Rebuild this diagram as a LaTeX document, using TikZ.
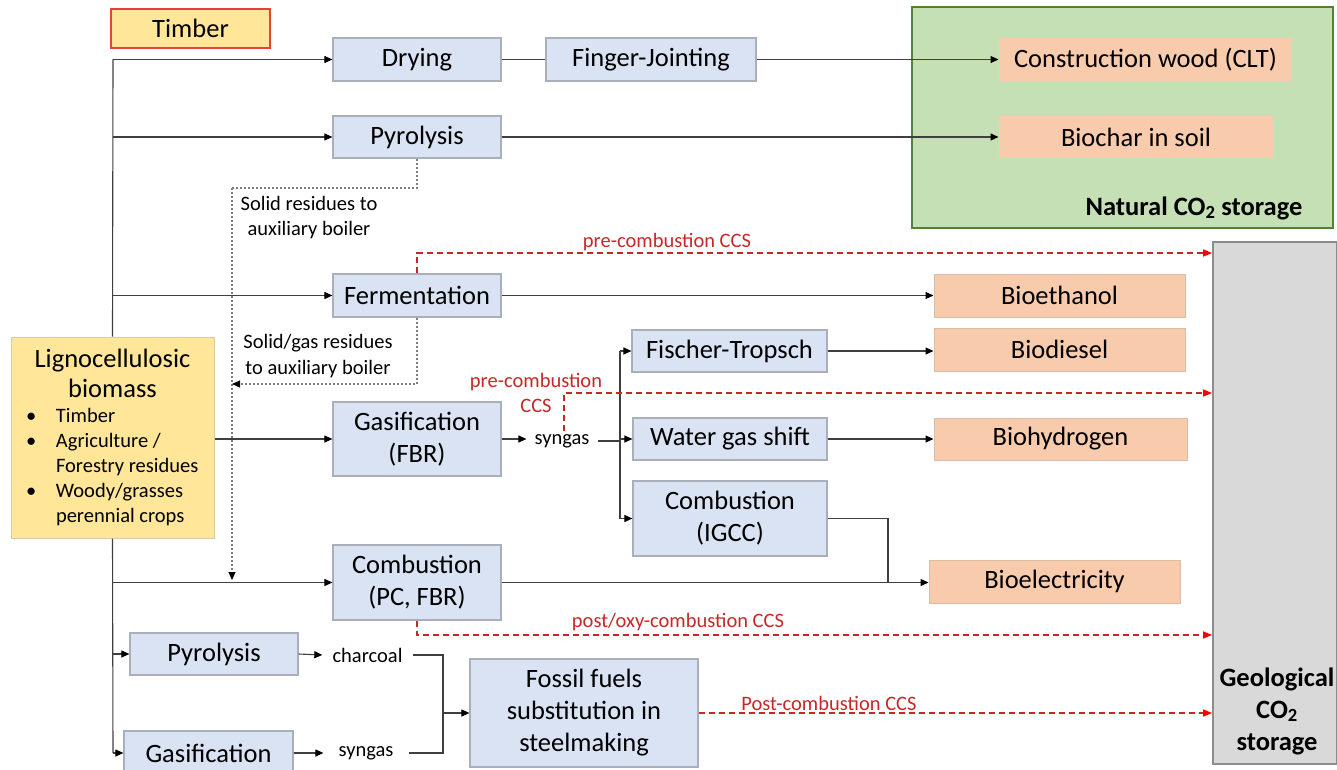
\documentclass[tikz,border=0pt]{standalone}
\usepackage{fontspec}
\setmainfont{Carlito}
\usetikzlibrary{arrows.meta}
\definecolor{procfill}{HTML}{DAE3F3}
\definecolor{procdraw}{HTML}{A9B0BC}
\definecolor{prodfill}{HTML}{F8CBAD}
\definecolor{proddraw}{HTML}{DDBCA6}
\definecolor{yel}{HTML}{FFE699}
\definecolor{yeldraw}{HTML}{D8CCA8}
\definecolor{timberdraw}{HTML}{E8403A}
\definecolor{natfill}{HTML}{C5E0B4}
\definecolor{natdraw}{HTML}{548235}
\definecolor{geofill}{HTML}{D9D9D9}
\definecolor{geodraw}{HTML}{8C8C8C}
\definecolor{ccsred}{HTML}{C62828}
\definecolor{ccstip}{HTML}{FF0000}
\definecolor{linegray}{HTML}{3F3F3F}
\definecolor{dotgray}{HTML}{7F7F7F}
\newcommand\mainsize{\fontsize{26.5}{32}\selectfont}
\newcommand\smallsize{\fontsize{20.5}{25.5}\selectfont}
\newcommand\bulletline[1]{\hspace*{15pt}\makebox[30pt][l]{•}#1}
\begin{document}
\begin{tikzpicture}[x=1pt,y=-1pt,
  base/.style={inner sep=0pt, align=center, font=\mainsize, text=black},
  proc/.style={base, fill=procfill, draw=procdraw, line width=1.2pt},
  prod/.style={base, fill=prodfill, draw=proddraw, line width=1pt},
  lbl/.style={inner sep=0pt, align=center, font=\smallsize, text=black},
  ccslbl/.style={inner sep=0pt, align=center, font=\smallsize, text=ccsred},
  arr/.style={draw=linegray, line width=1.1pt, -{Triangle[length=8pt,width=7pt,color=black]}},
  ln/.style={draw=linegray, line width=1.1pt},
  ccs/.style={draw=ccsred, line width=1.4pt, dash pattern=on 6pt off 4pt, -{Triangle[length=9pt,width=7pt,color=ccstip]}},
  dots/.style={draw=dotgray, line width=1.1pt, dash pattern=on 2pt off 2pt},
  dotarr/.style={dots, -{Triangle[length=8pt,width=7pt,color=black]}}
]
\useasboundingbox (0,0) rectangle (1337,770);

% storage areas
\node[base, fill=natfill, draw=natdraw, line width=1.5pt, minimum width=421pt, minimum height=221pt] (nat) at (1122.5,117.5) {};
\node[base, font=\mainsize\bfseries] (natlbl) at (1194,208) {Natural CO\textsubscript{2} storage};
\node[base, fill=geofill, draw=geodraw, line width=1.8pt, minimum width=124pt, minimum height=522pt] (geo) at (1275,503) {};
\node[base, font=\mainsize\bfseries] (geolbl) at (1277,711) {Geological\\CO\textsubscript{2}\\storage};

% source boxes
\node[base, fill=yel, draw=timberdraw, line width=1.5pt, minimum width=159pt, minimum height=39pt] (timber) at (190.5,28.5) {Timber};
\node[base, fill=yel, draw=yeldraw, line width=1pt, minimum width=203pt, minimum height=201pt] (bio) at (112.5,437.5)
  {\parbox{203pt}{\centering\mainsize\fontsize{26.5}{30}\selectfont Lignocellulosic\\biomass\par
   \raggedright\smallsize\fontsize{20.5}{25}\selectfont
   \bulletline{Timber}\\
   \bulletline{Agriculture /}\\
   \hspace*{45pt}Forestry residues\\
   \bulletline{Woody/grasses}\\
   \hspace*{45pt}perennial crops\par}};

% process boxes
\node[proc, minimum width=168pt, minimum height=43pt] (dry) at (417,59.5) {Drying};
\node[proc, minimum width=210pt, minimum height=43pt] (finger) at (651,59.5) {Finger-Jointing};
\node[proc, minimum width=168pt, minimum height=42pt] (pyro) at (417,137) {Pyrolysis};
\node[proc, minimum width=168pt, minimum height=43pt] (ferm) at (417,295.5) {Fermentation};
\node[proc, minimum width=168pt, minimum height=74pt] (gasif) at (417,439) {Gasification\\(FBR)};
\node[proc, minimum width=168pt, minimum height=75pt] (comb) at (417,582.5) {Combustion\\(PC, FBR)};
\node[proc, minimum width=195pt, minimum height=42pt] (ft) at (729.5,351) {Fischer-Tropsch};
\node[proc, minimum width=194pt, minimum height=42pt] (wgs) at (730,439) {Water gas shift};
\node[proc, minimum width=194pt, minimum height=75pt] (igcc) at (730,518.5) {Combustion\\(IGCC)};
\node[proc, minimum width=168pt, minimum height=42pt] (pyro2) at (214,654) {Pyrolysis};
\node[proc, minimum width=169pt, minimum height=44pt] (gas2) at (208.5,753) {Gasification};
\node[proc, minimum width=228pt, minimum height=108pt] (fossil) at (584,713) {Fossil fuels\\substitution in\\steelmaking};

% products
\node[prod, draw=none, minimum width=293pt, minimum height=43pt] (clt) at (1145.5,59.5) {Construction wood (CLT)};
\node[prod, draw=none, minimum width=274pt, minimum height=42pt] (biochar) at (1136,137) {Biochar in soil};
\node[prod, minimum width=251pt, minimum height=43pt] (bioeth) at (1059.5,295.5) {Bioethanol};
\node[prod, minimum width=251pt, minimum height=43pt] (biod) at (1059.5,349.5) {Biodiesel};
\node[prod, minimum width=253pt, minimum height=42pt] (bioh) at (1060.5,439) {Biohydrogen};
\node[prod, minimum width=251pt, minimum height=43pt] (bioel) at (1054.5,581.5) {Bioelectricity};

% intermediate texts
\node[lbl, inner xsep=8pt, inner ysep=3pt] (syngas) at (562,441) {syngas};
\node[lbl, inner xsep=10pt] (charcoal) at (367.5,655) {charcoal};
\node[lbl, inner xsep=15pt] (syngas2) at (366,753) {syngas};
\node[lbl] (res1) at (309,217.5) {Solid residues to\\auxiliary boiler};
\node[lbl] (res2) at (318,356) {Solid/gas residues\\to auxiliary boiler};
\node[ccslbl] (ccs1) at (667,242) {pre-combustion CCS};
\node[ccslbl] (ccs2) at (536,393) {pre-combustion\\CCS};
\node[ccslbl] (ccs3) at (678,622) {post/oxy-combustion CCS};
\node[ccslbl] (ccs4) at (829,703) {Post-combustion CCS};

% trunk
\coordinate (ttop) at (113,59.5);
\coordinate (tbot) at (113,753);
\draw[ln] (ttop) -- (bio.north);
\draw[ln] (bio.south) -- (tbot);
\draw[arr] (ttop) -- (dry.west);
\draw[arr] (pyro.west -| ttop) -- (pyro.west);
\draw[arr] (ferm.west -| ttop) -- (ferm.west);
\draw[arr] (comb.west -| ttop) -- (comb.west);
\draw[arr] (pyro2.west -| ttop) -- (pyro2.west);
\draw[arr] (tbot) -- (gas2.west);
\draw[arr] (bio.east |- gasif.west) -- (gasif.west);

% top rows
\draw[ln] (dry.east) -- (finger.west);
\draw[arr] (finger.east) -- (clt.west);
\draw[arr] (pyro.east) -- (biochar.west);
\draw[arr] (ferm.east) -- (bioeth.west);

% residues to boiler
\coordinate (rv) at (232,188);
\coordinate (rb) at (232,580);
\draw[dots] (pyro.south) |- (rv);
\draw[dotarr] (rv) -- (rb);
\coordinate (rf) at (417,384);
\draw[dotarr] (ferm.south) -- (rf) -- (rf -| rv);

% gasification chain
\coordinate (split) at (620,441);
\draw[arr] (gasif.east) -- (syngas.west |- gasif.east);
\draw[ln] (syngas.east) -- (split);
\draw[ln] (split |- ft.west) -- (split |- igcc.west);
\draw[arr] (split |- ft.west) -- (ft.west);
\draw[arr] (split |- wgs.west) -- (wgs.west);
\draw[arr] (split |- igcc.west) -- (igcc.west);
\draw[arr] (ft.east) -- (ft.east -| biod.west);
\draw[arr] (wgs.east) -- (bioh.west);
\coordinate (ej) at (888,518.5);
\draw[ln] (igcc.east) -- (ej) -- (ej |- comb.east);
\draw[arr] (comb.east) -- (comb.east -| bioel.west);

% CCS routes
\coordinate (c1) at (417,253);
\draw[ccs] (ferm.north) -- (c1) -- (c1 -| geo.west);
\coordinate (c2) at (564,393);
\draw[ccs] (c2 |- syngas.north) -- (c2) -- (c2 -| geo.west);
\coordinate (c3) at (417,635);
\draw[ccs] (comb.south) -- (c3) -- (c3 -| geo.west);
\draw[ccs] (fossil.east) -- (fossil.east -| geo.west);

% steelmaking
\coordinate (mj) at (443,713);
\draw[arr] (pyro2.east) -- (charcoal.west);
\draw[arr] (gas2.east) -- (syngas2.west);
\draw[ln] (charcoal.east) -| (mj);
\draw[ln] (syngas2.east) -| (mj);
\draw[arr] (mj) -- (fossil.west);
\end{tikzpicture}
\end{document}
